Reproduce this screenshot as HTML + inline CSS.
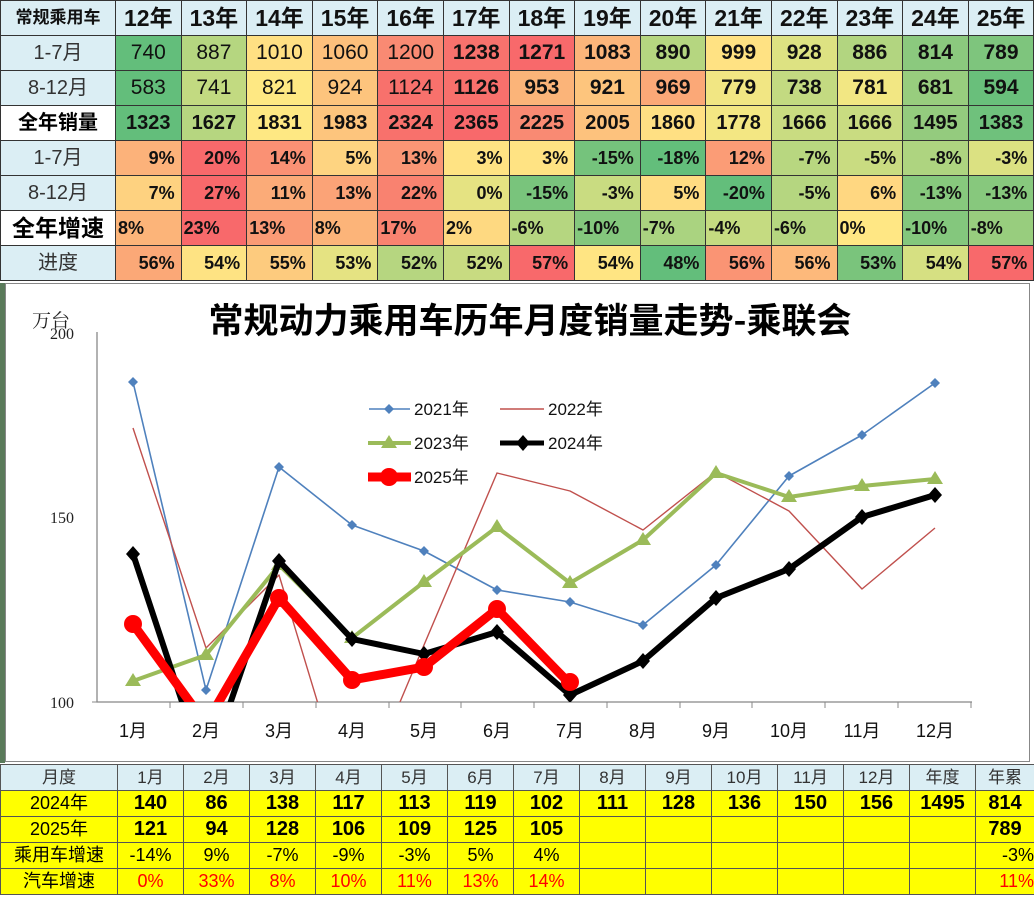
<!DOCTYPE html>
<html><head><meta charset="utf-8">
<style>
body{margin:0;width:1034px;height:897px;overflow:hidden;background:#fff;font-family:"Liberation Sans","Noto Sans CJK SC",sans-serif;position:relative}
table{border-collapse:collapse;table-layout:fixed;position:absolute;left:0}
td{border:1px solid #333;padding:0;overflow:hidden;white-space:nowrap}
#t1{top:0;width:1034px}
#t1 td{height:34px;line-height:34px;font-size:21px;text-align:center;color:#111}
#t1 tr.h td{background:#dbeef4;font-weight:bold;font-size:23px}
#t1 td.l{background:#dbeef4;font-size:20px;color:#333}
#t1 td.b{background:#fff;font-weight:bold;font-size:23px;color:#000}
#t1 td.p{text-align:right;font-weight:bold;font-size:18px;padding-right:6px}
#t1 td.q{text-align:left;font-weight:bold;font-size:18px;padding-left:2px}
#t1 tr.s td{font-weight:bold;font-size:20px}
#t2{top:764px;width:1034px}
#t2 td{height:25px;line-height:25px;text-align:center;background:#ffff00;font-size:18px;border-color:#555}
#t2 tr.h td{background:#dbeef4;font-size:17px;color:#333}
#t2 td.v{font-weight:bold;font-size:20px}
#t2 .r{color:#f00}
</style></head><body>
<table id="t1">
<colgroup><col style="width:115px"><col span="14" style="width:65.6px"></colgroup>
<tr class="h"><td style="font-size:17px">常规乘用车</td><td>12年</td><td>13年</td><td>14年</td><td>15年</td><td>16年</td><td>17年</td><td>18年</td><td>19年</td><td>20年</td><td>21年</td><td>22年</td><td>23年</td><td>24年</td><td>25年</td></tr>
<tr><td class="l">1-7月</td><td style="background:#63be7b">740</td><td style="background:#b5d680">887</td><td style="background:#ffe083">1010</td><td style="background:#fdc07c">1060</td><td style="background:#f98a73">1200</td><td style="background:#f8726d;font-weight:bold">1238</td><td style="background:#f8696b;font-weight:bold">1271</td><td style="background:#fcb57a;font-weight:bold">1083</td><td style="background:#b5d680;font-weight:bold">890</td><td style="background:#ffe283;font-weight:bold">999</td><td style="background:#dde282;font-weight:bold">928</td><td style="background:#b2d580;font-weight:bold">886</td><td style="background:#8bc97e;font-weight:bold">814</td><td style="background:#7ec57d;font-weight:bold">789</td></tr>
<tr><td class="l">8-12月</td><td style="background:#63be7b">583</td><td style="background:#c2da81">741</td><td style="background:#fee883">821</td><td style="background:#fdc47d">924</td><td style="background:#f8716c">1124</td><td style="background:#f8706c;font-weight:bold">1126</td><td style="background:#fbb479;font-weight:bold">953</td><td style="background:#fdc57d;font-weight:bold">921</td><td style="background:#fba877;font-weight:bold">969</td><td style="background:#f1e683;font-weight:bold">779</td><td style="background:#c3da81;font-weight:bold">738</td><td style="background:#f2e783;font-weight:bold">781</td><td style="background:#98cd7e;font-weight:bold">681</td><td style="background:#69bf7b;font-weight:bold">594</td></tr>
<tr class="s"><td class="b">全年销量</td><td style="background:#63be7b">1323</td><td style="background:#b6d680">1627</td><td style="background:#fee883">1831</td><td style="background:#fdc57d">1983</td><td style="background:#f8716c">2324</td><td style="background:#f8696b">2365</td><td style="background:#f98a73">2225</td><td style="background:#fdc27d">2005</td><td style="background:#ffe083">1860</td><td style="background:#f3e783">1778</td><td style="background:#c9dc81">1666</td><td style="background:#c9dc81">1666</td><td style="background:#94cb7e">1495</td><td style="background:#6fc17c">1383</td></tr>
<tr><td class="l">1-7月</td><td class="p" style="background:#fcb27a">9%</td><td class="p" style="background:#f8696b">20%</td><td class="p" style="background:#fa9174">14%</td><td class="p" style="background:#fed481">5%</td><td class="p" style="background:#fa9675">13%</td><td class="p" style="background:#ffe383">3%</td><td class="p" style="background:#ffe383">3%</td><td class="p" style="background:#75c37c">-15%</td><td class="p" style="background:#63be7b">-18%</td><td class="p" style="background:#fb9c76">12%</td><td class="p" style="background:#b8d780">-7%</td><td class="p" style="background:#c9dc81">-5%</td><td class="p" style="background:#aed480">-8%</td><td class="p" style="background:#dbe182">-3%</td></tr>
<tr><td class="l">8-12月</td><td class="p" style="background:#fed280">7%</td><td class="p" style="background:#f8696b">27%</td><td class="p" style="background:#fbab78">11%</td><td class="p" style="background:#fba377">13%</td><td class="p" style="background:#f98270">22%</td><td class="p" style="background:#e5e382">0%</td><td class="p" style="background:#79c47c">-15%</td><td class="p" style="background:#c9dc81">-3%</td><td class="p" style="background:#ffdc82">5%</td><td class="p" style="background:#63be7b">-20%</td><td class="p" style="background:#b5d680">-5%</td><td class="p" style="background:#ffd781">6%</td><td class="p" style="background:#87c87d">-13%</td><td class="p" style="background:#87c87d">-13%</td></tr>
<tr><td class="b">全年增速</td><td class="q" style="background:#fcb479">8%</td><td class="q" style="background:#f8696b">23%</td><td class="q" style="background:#fa9a75">13%</td><td class="q" style="background:#fcb479">8%</td><td class="q" style="background:#f98370">17%</td><td class="q" style="background:#fed981">2%</td><td class="q" style="background:#b5d680">-6%</td><td class="q" style="background:#84c77d">-10%</td><td class="q" style="background:#aad380">-7%</td><td class="q" style="background:#c5db81">-4%</td><td class="q" style="background:#b5d680">-6%</td><td class="q" style="background:#ffe784">0%</td><td class="q" style="background:#84c77d">-10%</td><td class="q" style="background:#98cd7e">-8%</td></tr>
<tr><td class="l">进度</td><td class="p" style="background:#fba877">56%</td><td class="p" style="background:#fee383">54%</td><td class="p" style="background:#fdcb7e">55%</td><td class="p" style="background:#e5e382">53%</td><td class="p" style="background:#b6d680">52%</td><td class="p" style="background:#c8db81">52%</td><td class="p" style="background:#f8696b">57%</td><td class="p" style="background:#ffe583">54%</td><td class="p" style="background:#63be7b">48%</td><td class="p" style="background:#fa9474">56%</td><td class="p" style="background:#fdb97b">56%</td><td class="p" style="background:#7ac47c">53%</td><td class="p" style="background:#d6e082">54%</td><td class="p" style="background:#f8696b">57%</td></tr>
</table>

<div style="position:absolute;left:0;top:283px;width:5px;height:480px;background:#5a7a5a"></div>
<svg style="position:absolute;left:0;top:0" width="1034" height="897" viewBox="0 0 1034 897">
<rect x="5.5" y="283.5" width="1024" height="478" fill="#fff" stroke="#888"/>
<defs><clipPath id="c"><rect x="97" y="300" width="880" height="402"/></clipPath></defs>
<text x="530" y="333" font-size="35" font-weight="bold" text-anchor="middle" font-family="Noto Sans CJK SC,sans-serif" fill="#000">常规动力乘用车历年月度销量走势-乘联会</text>
<text x="32" y="327" font-size="19" font-family="Noto Serif CJK SC,serif" fill="#222">万台</text>
<g font-family="Liberation Serif,serif" font-size="16" fill="#222" text-anchor="end">
<text x="74" y="339">200</text><text x="74" y="523">150</text><text x="74" y="708">100</text></g>
<path d="M97 332V702H972" fill="none" stroke="#888" stroke-width="1.3"/>
<g stroke="#888"><path d="M170 702v6M243 702v6M316 702v6M389 702v6M461 702v6M534 702v6M607 702v6M680 702v6M752 702v6M825 702v6M898 702v6M971 702v6M97 702h-5"/></g>
<g font-size="18" text-anchor="middle" fill="#111">
<text x="133" y="737">1月</text><text x="206" y="737">2月</text><text x="279" y="737">3月</text><text x="352" y="737">4月</text><text x="424" y="737">5月</text><text x="497" y="737">6月</text><text x="570" y="737">7月</text><text x="643" y="737">8月</text><text x="716" y="737">9月</text><text x="789" y="737">10月</text><text x="862" y="737">11月</text><text x="935" y="737">12月</text></g>
<g clip-path="url(#c)" fill="none" stroke-linejoin="round">
<polyline stroke="#4f81bd" stroke-width="1.6" points="133,382 206,690 279,467 352,525 424,551 497,590 570,602 643,625 716,565 789,476 862,435 935,383"/>
<g fill="#4f81bd"><path d="M133 377l5 5-5 5-5-5zM206 685l5 5-5 5-5-5zM279 462l5 5-5 5-5-5zM352 520l5 5-5 5-5-5zM424 546l5 5-5 5-5-5zM497 585l5 5-5 5-5-5zM570 597l5 5-5 5-5-5zM643 620l5 5-5 5-5-5zM716 560l5 5-5 5-5-5zM789 471l5 5-5 5-5-5zM862 430l5 5-5 5-5-5zM935 378l5 5-5 5-5-5z"/></g>
<polyline stroke="#c0504d" stroke-width="1.4" points="133,428 206,648 279,575 352,816 424,645 497,473 570,491 643,530 716,472 789,511 862,589 935,528"/>
<polyline stroke="#9bbb59" stroke-width="4" points="133,681 206,655 279,565 352,638 424,582 497,527 570,583 643,540 716,473 789,497 862,486 935,479"/>
<g fill="#9bbb59"><path d="M133 673l8 13h-16zM206 647l8 13h-16zM279 557l8 13h-16zM352 630l8 13h-16zM424 574l8 13h-16zM497 519l8 13h-16zM570 575l8 13h-16zM643 532l8 13h-16zM716 465l8 13h-16zM789 489l8 13h-16zM862 478l8 13h-16zM935 471l8 13h-16z"/></g>
<polyline stroke="#000" stroke-width="6" points="133,554 206,774 279,561 352,639 424,654 497,632 570,695 643,661 716,598 789,569 862,517 935,495"/>
<g fill="#000"><path d="M133 546l7 8-7 8-7-8zM279 553l7 8-7 8-7-8zM352 631l7 8-7 8-7-8zM424 646l7 8-7 8-7-8zM497 624l7 8-7 8-7-8zM570 687l7 8-7 8-7-8zM643 653l7 8-7 8-7-8zM716 590l7 8-7 8-7-8zM789 561l7 8-7 8-7-8zM862 509l7 8-7 8-7-8zM935 487l7 8-7 8-7-8z"/></g>
<polyline stroke="#f00" stroke-width="9" points="133,624 206,724 279,598 352,680 424,667 497,609 570,684"/>
<g fill="#f00"><circle cx="133" cy="624" r="9"/><circle cx="279" cy="598" r="9"/><circle cx="352" cy="680" r="9"/><circle cx="424" cy="667" r="9"/><circle cx="497" cy="609" r="9"/><circle cx="570" cy="682" r="9"/></g>
</g>
<g font-size="17" fill="#111">
<path d="M369 409h41" stroke="#4f81bd" stroke-width="1.6"/><path d="M389 404l5 5-5 5-5-5z" fill="#4f81bd"/><text x="414" y="415">2021年</text>
<path d="M500 409h44" stroke="#c0504d" stroke-width="1.4"/><text x="548" y="415">2022年</text>
<path d="M368 443h43" stroke="#9bbb59" stroke-width="4"/><path d="M389 435l8 13h-16z" fill="#9bbb59"/><text x="414" y="449">2023年</text>
<path d="M500 443h44" stroke="#000" stroke-width="5"/><path d="M523 435l7 8-7 8-7-8z" fill="#000"/><text x="548" y="449">2024年</text>
<path d="M368 477h43" stroke="#f00" stroke-width="9"/><circle cx="389" cy="477" r="9" fill="#f00"/><text x="414" y="483">2025年</text>
</g>
</svg>

<table id="t2">
<colgroup><col style="width:117px"><col span="12" style="width:66px"><col style="width:66px"><col style="width:59px"></colgroup>
<tr class="h"><td>月度</td><td>1月</td><td>2月</td><td>3月</td><td>4月</td><td>5月</td><td>6月</td><td>7月</td><td>8月</td><td>9月</td><td>10月</td><td>11月</td><td>12月</td><td>年度</td><td>年累</td></tr>
<tr><td>2024年</td><td class="v">140</td><td class="v">86</td><td class="v">138</td><td class="v">117</td><td class="v">113</td><td class="v">119</td><td class="v">102</td><td class="v">111</td><td class="v">128</td><td class="v">136</td><td class="v">150</td><td class="v">156</td><td class="v">1495</td><td class="v">814</td></tr>
<tr><td>2025年</td><td class="v">121</td><td class="v">94</td><td class="v">128</td><td class="v">106</td><td class="v">109</td><td class="v">125</td><td class="v">105</td><td></td><td></td><td></td><td></td><td></td><td></td><td class="v">789</td></tr>
<tr><td>乘用车增速</td><td>-14%</td><td>9%</td><td>-7%</td><td>-9%</td><td>-3%</td><td>5%</td><td>4%</td><td></td><td></td><td></td><td></td><td></td><td></td><td style="text-align:right">-3%</td></tr>
<tr><td>汽车增速</td><td class="r">0%</td><td class="r">33%</td><td class="r">8%</td><td class="r">10%</td><td class="r">11%</td><td class="r">13%</td><td class="r">14%</td><td></td><td></td><td></td><td></td><td></td><td></td><td class="r" style="text-align:right">11%</td></tr>
</table>
</body></html>
